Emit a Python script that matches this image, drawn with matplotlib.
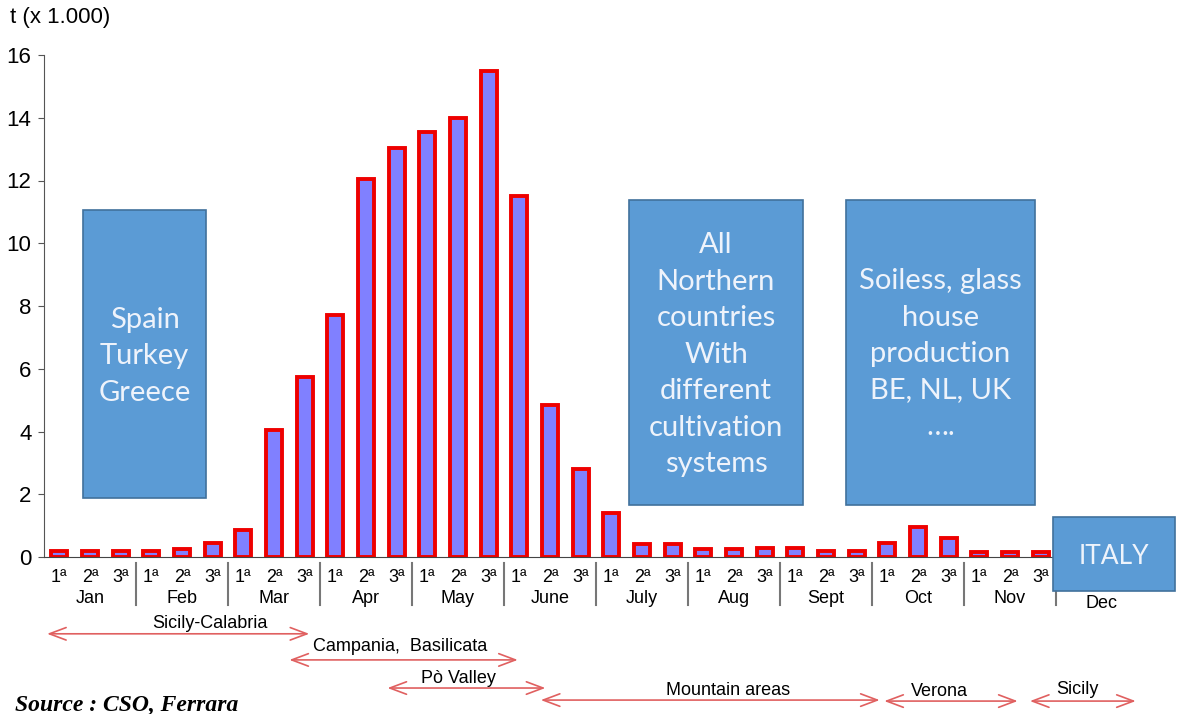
import matplotlib
matplotlib.use("Agg")
import matplotlib.pyplot as plt
from matplotlib.patches import Rectangle

# ---- data ----
months = ["Jan", "Feb", "Mar", "Apr", "May", "June", "July", "Aug", "Sept", "Oct", "Nov", "Dec"]
dekads = ["1ª", "2ª", "3ª"]
values = [0.2, 0.2, 0.2,      # Jan
          0.2, 0.25, 0.45,    # Feb
          0.85, 4.05, 5.75,   # Mar
          7.7, 12.05, 13.05,  # Apr
          13.55, 14.0, 15.5,  # May
          11.5, 4.85, 2.8,    # June
          1.4, 0.4, 0.4,      # July
          0.25, 0.25, 0.3,    # Aug
          0.3, 0.2, 0.2,      # Sept
          0.45, 0.95, 0.6,    # Oct
          0.15, 0.15, 0.15]   # Nov
region_names = ["Sicily-Calabria", "Campania,  Basilicata", "Pò Valley", "Mountain areas", "Verona", "Sicily"]
region_start = [-0.4, 7.5, 10.7, 15.7, 26.9, 31.65]   # in dekad units
region_end = [8.15, 14.95, 15.85, 26.75, 31.25, 35.1]
region_label_x = [4.9, 11.1, 13.0, 21.8, 28.7, 33.2]
box_texts = ["Spain\nTurkey\nGreece",
             "All\nNorthern\ncountries\nWith\ndifferent\ncultivation\nsystems",
             "Soiless, glass\nhouse\nproduction\nBE, NL, UK\n….",
             "ITALY"]

W, H = 1177, 714
fig = plt.figure(figsize=(W / 100, H / 100), dpi=100)
px0, px1 = 44, 1148
py0, py1 = 557, 55
ax = fig.add_axes([px0 / W, (H - py0) / H, (px1 - px0) / W, (py0 - py1) / H])
ax.set_xlim(-0.5, 35.5)
ax.set_ylim(0, 16)

x = list(range(len(values)))
ax.bar(x, values, width=0.52, color="#8080ff", edgecolor="#ee0000", linewidth=2.8, zorder=3)

for s in ["top", "right"]:
    ax.spines[s].set_visible(False)
ax.spines["left"].set_color("#555555")
ax.spines["bottom"].set_color("#444444")
ax.spines["bottom"].set_bounds(-0.5, 32.5)
ax.spines["bottom"].set_zorder(4)
ax.set_yticks(range(0, 17, 2))
ax.tick_params(axis="y", labelsize=16, length=4, direction="out", color="#555555", pad=5)
ax.set_xticks([])
for lab in ax.get_yticklabels():
    lab.set_fontfamily("Liberation Sans")

tr = ax.get_xaxis_transform()
font = "Liberation Sans"
for i in x:
    ax.text(i, -0.040, dekads[i % 3], transform=tr, ha="center", va="center",
            fontsize=13, family=font)
for m, name in enumerate(months):
    ax.text(3 * m + 1, -0.092 if name == "Dec" else -0.082, name, transform=tr,
            ha="center", va="center", fontsize=13, family=font)
for m in range(1, 12):
    ax.plot([3 * m - 0.5] * 2, [-0.012, -0.095], transform=tr, color="#777777",
            lw=1.5, clip_on=False)

# regions with arrows
arrow_y = [-0.153, -0.205, -0.261, -0.285, -0.287, -0.287]
label_y = [-0.133, -0.178, -0.243, -0.265, -0.267, -0.263]
for name, s, e, lx, ay, ly in zip(region_names, region_start, region_end, region_label_x,
                                  arrow_y, label_y):
    ax.annotate("", xy=(e, ay), xytext=(s, ay), xycoords=tr, textcoords=tr,
                arrowprops=dict(arrowstyle="<->,head_length=1.2,head_width=0.45",
                                color="#e06060", lw=1.2, shrinkA=0, shrinkB=0),
                annotation_clip=False)
    ax.text(lx, ly, name, transform=tr, ha="center", va="center", fontsize=13, family=font)

# boxes
box_x0 = [0.78, 18.58, 25.65, 32.40]
box_x1 = [4.79, 24.25, 31.81, 36.38]
box_y0 = [1.88, 1.66, 1.66, -1.08]
box_y1 = [11.06, 11.38, 11.38, 1.27]
text_y = [6.4, 6.45, 6.47, 0.0]
sizes = [21, 21, 21, 19]
for t, a, b, c, d, ty, fs in zip(box_texts, box_x0, box_x1, box_y0, box_y1, text_y, sizes):
    ax.add_patch(Rectangle((a, c), b - a, d - c, facecolor="#5b9bd5", edgecolor="#41719c",
                           lw=1.2, zorder=5, clip_on=False))
    ax.text((a + b) / 2, ty, t, ha="center", va="center", fontsize=fs, color="#eef3fb",
            family="Lato", linespacing=1.5, zorder=6, clip_on=False)

fig.text(10 / W, 1 - 18 / H, "t (x 1.000)", ha="left", va="center", fontsize=16, family=font)
fig.text(15 / W, 1 - 705 / H, "Source : CSO, Ferrara", ha="left", va="center", fontsize=17,
         family="Liberation Serif", weight="bold", style="italic")

fig.savefig("out.png", dpi=100)
